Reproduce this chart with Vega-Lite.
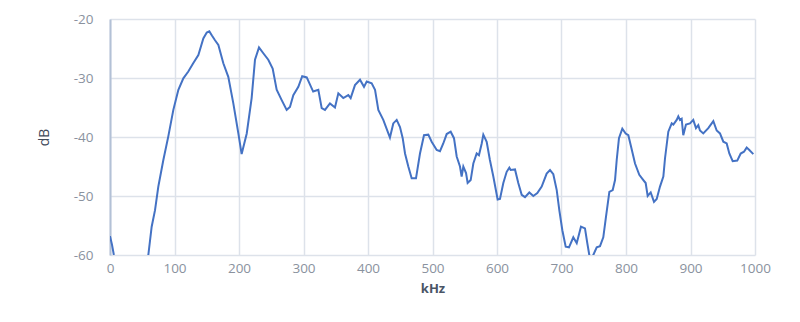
{
  "$schema": "https://vega.github.io/schema/vega-lite/v6.json",
  "autosize": "none",
  "width": 645,
  "height": 236,
  "padding": {"left": 110, "top": 19, "right": 45, "bottom": 67},
  "background": "white",
  "config": {
    "font": "Open Sans",
    "view": {"stroke": null},
    "axis": {
      "labelFont": "Open Sans",
      "titleFont": "Open Sans",
      "labelColor": "#8a929e",
      "labelFontSize": 13.5,
      "titleColor": "#4a5566",
      "titleFontSize": 13,
      "titleFontWeight": "bold",
      "gridColor": "#dde2ea",
      "gridWidth": 1.5,
      "ticks": false,
      "labelFlush": false
    }
  },
  "data": {
    "values": [
      {"kHz": 0, "dB": -56.8}, {"kHz": 3, "dB": -58.2}, {"kHz": 6, "dB": -60}, {"kHz": 10, "dB": -62},
      {"kHz": 30, "dB": -64}, {"kHz": 50, "dB": -62}, {"kHz": 59.4, "dB": -60}, {"kHz": 64.6, "dB": -55.2},
      {"kHz": 69.8, "dB": -52.4}, {"kHz": 74.9, "dB": -48.4}, {"kHz": 82.7, "dB": -43.9}, {"kHz": 90.4, "dB": -39.9},
      {"kHz": 98.2, "dB": -35.4}, {"kHz": 106, "dB": -32.0}, {"kHz": 113.7, "dB": -30.05}, {"kHz": 121.4, "dB": -28.9},
      {"kHz": 129, "dB": -27.5}, {"kHz": 137, "dB": -26.1}, {"kHz": 144.7, "dB": -23.3}, {"kHz": 150, "dB": -22.3},
      {"kHz": 154, "dB": -22.1}, {"kHz": 158, "dB": -22.8}, {"kHz": 162.8, "dB": -23.6}, {"kHz": 168, "dB": -24.4},
      {"kHz": 175.7, "dB": -27.5}, {"kHz": 183.4, "dB": -29.8}, {"kHz": 191.2, "dB": -34.3}, {"kHz": 199, "dB": -39.4},
      {"kHz": 204.1, "dB": -42.9}, {"kHz": 212, "dB": -39.4}, {"kHz": 219.6, "dB": -33.4}, {"kHz": 224.8, "dB": -26.9},
      {"kHz": 231, "dB": -24.8}, {"kHz": 237.7, "dB": -25.8}, {"kHz": 245.4, "dB": -26.9}, {"kHz": 252.2, "dB": -28.4},
      {"kHz": 258.4, "dB": -32.0}, {"kHz": 266, "dB": -33.7}, {"kHz": 273.9, "dB": -35.4}, {"kHz": 279, "dB": -34.9},
      {"kHz": 284.2, "dB": -32.9}, {"kHz": 292, "dB": -31.5}, {"kHz": 298, "dB": -29.7}, {"kHz": 305, "dB": -29.9},
      {"kHz": 315, "dB": -32.3}, {"kHz": 323, "dB": -32.0}, {"kHz": 328.2, "dB": -35.1}, {"kHz": 333.3, "dB": -35.4},
      {"kHz": 341, "dB": -34.3}, {"kHz": 348.8, "dB": -35.0}, {"kHz": 354, "dB": -32.6}, {"kHz": 361.7, "dB": -33.4},
      {"kHz": 369.5, "dB": -32.9}, {"kHz": 373.1, "dB": -33.4}, {"kHz": 379.8, "dB": -31.2}, {"kHz": 387.6, "dB": -30.3},
      {"kHz": 393.8, "dB": -31.5}, {"kHz": 398, "dB": -30.6}, {"kHz": 405.7, "dB": -30.9}, {"kHz": 410.9, "dB": -32.0},
      {"kHz": 416, "dB": -35.4}, {"kHz": 423.7, "dB": -37.1}, {"kHz": 434, "dB": -40.1}, {"kHz": 439.2, "dB": -37.7},
      {"kHz": 444.5, "dB": -37.1}, {"kHz": 449.6, "dB": -38.3}, {"kHz": 453.8, "dB": -40.2}, {"kHz": 457.4, "dB": -42.8},
      {"kHz": 462.5, "dB": -45.0}, {"kHz": 467.7, "dB": -47.0}, {"kHz": 474.4, "dB": -47.0}, {"kHz": 480.6, "dB": -42.8},
      {"kHz": 486.8, "dB": -39.7}, {"kHz": 493.5, "dB": -39.6}, {"kHz": 498.7, "dB": -40.8}, {"kHz": 506.5, "dB": -42.2},
      {"kHz": 511.6, "dB": -42.4}, {"kHz": 516.7, "dB": -41.1}, {"kHz": 522, "dB": -39.5}, {"kHz": 528.2, "dB": -39.1},
      {"kHz": 533.3, "dB": -40.2}, {"kHz": 537.5, "dB": -43.3}, {"kHz": 542.6, "dB": -45.0}, {"kHz": 545.2, "dB": -46.7},
      {"kHz": 547.8, "dB": -45.0}, {"kHz": 552, "dB": -46.1}, {"kHz": 554.5, "dB": -47.8}, {"kHz": 559.2, "dB": -47.3},
      {"kHz": 563.3, "dB": -44.5}, {"kHz": 568.5, "dB": -42.8}, {"kHz": 572, "dB": -43.1}, {"kHz": 576.3, "dB": -41.1},
      {"kHz": 578.8, "dB": -39.6}, {"kHz": 584, "dB": -40.8}, {"kHz": 589, "dB": -43.9}, {"kHz": 594.3, "dB": -46.7},
      {"kHz": 601, "dB": -50.6}, {"kHz": 604.6, "dB": -50.5}, {"kHz": 609.8, "dB": -47.8}, {"kHz": 615, "dB": -45.9},
      {"kHz": 619.1, "dB": -45.2}, {"kHz": 621.2, "dB": -45.6}, {"kHz": 627.9, "dB": -45.5}, {"kHz": 633, "dB": -47.8},
      {"kHz": 638.3, "dB": -49.8}, {"kHz": 643.4, "dB": -50.2}, {"kHz": 650.1, "dB": -49.4}, {"kHz": 656.3, "dB": -50.0},
      {"kHz": 662.5, "dB": -49.5}, {"kHz": 669.3, "dB": -48.4}, {"kHz": 677, "dB": -46.2}, {"kHz": 682.2, "dB": -45.6},
      {"kHz": 687.3, "dB": -46.3}, {"kHz": 692.6, "dB": -49.0}, {"kHz": 696.6, "dB": -52.4}, {"kHz": 701.3, "dB": -55.8},
      {"kHz": 706.5, "dB": -58.6}, {"kHz": 711.6, "dB": -58.7}, {"kHz": 718.3, "dB": -57.0}, {"kHz": 723.6, "dB": -58.0},
      {"kHz": 730.2, "dB": -55.2}, {"kHz": 736.4, "dB": -55.5}, {"kHz": 740, "dB": -58.0}, {"kHz": 743.1, "dB": -60},
      {"kHz": 746.8, "dB": -60.6}, {"kHz": 749.3, "dB": -60}, {"kHz": 754.6, "dB": -58.7}, {"kHz": 759.7, "dB": -58.5},
      {"kHz": 764.8, "dB": -57.0}, {"kHz": 769, "dB": -53.5}, {"kHz": 774.2, "dB": -49.3}, {"kHz": 779.4, "dB": -49.0},
      {"kHz": 783, "dB": -47.3}, {"kHz": 785.6, "dB": -43.9}, {"kHz": 789.1, "dB": -40.2}, {"kHz": 794.3, "dB": -38.6},
      {"kHz": 799.5, "dB": -39.4}, {"kHz": 803.6, "dB": -39.7}, {"kHz": 807.8, "dB": -41.6}, {"kHz": 814, "dB": -44.5},
      {"kHz": 820.6, "dB": -46.4}, {"kHz": 826.9, "dB": -47.3}, {"kHz": 830.5, "dB": -47.8}, {"kHz": 833.6, "dB": -50.0},
      {"kHz": 838.3, "dB": -49.4}, {"kHz": 843.4, "dB": -51.0}, {"kHz": 847.6, "dB": -50.5}, {"kHz": 852.7, "dB": -48.4},
      {"kHz": 857.9, "dB": -46.7}, {"kHz": 860.5, "dB": -43.6}, {"kHz": 865.6, "dB": -39.1}, {"kHz": 870.9, "dB": -37.7},
      {"kHz": 873.4, "dB": -37.9}, {"kHz": 878.6, "dB": -37.1}, {"kHz": 881.1, "dB": -36.5}, {"kHz": 883.7, "dB": -37.1},
      {"kHz": 886.3, "dB": -36.9}, {"kHz": 888.8, "dB": -39.7}, {"kHz": 893, "dB": -37.9}, {"kHz": 899.2, "dB": -37.7},
      {"kHz": 904.3, "dB": -37.1}, {"kHz": 908.5, "dB": -38.5}, {"kHz": 912.1, "dB": -38.0}, {"kHz": 914.7, "dB": -38.9},
      {"kHz": 919.8, "dB": -39.4}, {"kHz": 927.6, "dB": -38.5}, {"kHz": 935.4, "dB": -37.3}, {"kHz": 940.6, "dB": -38.9},
      {"kHz": 945.7, "dB": -39.4}, {"kHz": 950.9, "dB": -40.8}, {"kHz": 956.1, "dB": -41.1}, {"kHz": 960.2, "dB": -42.8},
      {"kHz": 965.4, "dB": -44.1}, {"kHz": 972.5, "dB": -44.0}, {"kHz": 977.8, "dB": -42.8}, {"kHz": 982.9, "dB": -42.5},
      {"kHz": 987.1, "dB": -41.8}, {"kHz": 991.2, "dB": -42.2}, {"kHz": 997.4, "dB": -42.9}
    ]
  },
  "mark": {"type": "line", "color": "#4472C4", "strokeWidth": 2, "clip": true},
  "encoding": {
    "x": {
      "field": "kHz", "type": "quantitative",
      "scale": {"domain": [0, 1000], "nice": false},
      "axis": {"title": "kHz", "values": [0,100,200,300,400,500,600,700,800,900,1000], "labelExpr": "'' + datum.value", "domain": false, "labelPadding": 6, "titlePadding": 8}
    },
    "y": {
      "field": "dB", "type": "quantitative",
      "scale": {"domain": [-60, -20], "nice": false, "zero": false},
      "axis": {"title": "dB", "titleFontWeight": "normal", "titleFontSize": 14, "titleColor": "#3f4a5a", "values": [-60,-50,-40,-30,-20], "labelExpr": "'' + datum.value", "domain": true, "domainColor": "#b3c1d6", "domainWidth": 2, "labelPadding": 17, "titlePadding": 22}
    }
  }
}
